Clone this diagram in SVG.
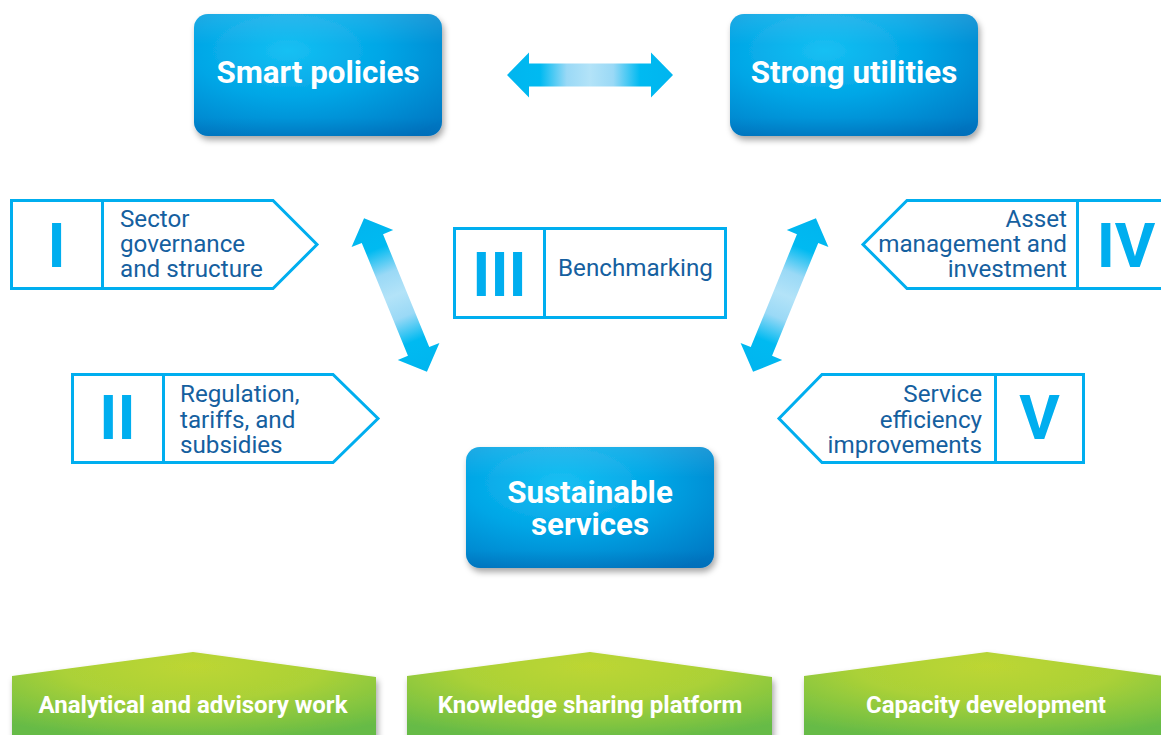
<svg xmlns="http://www.w3.org/2000/svg" width="1161" height="735" viewBox="0 0 1161 735">
<defs>
  <radialGradient id="gBlue" cx="0.38" cy="0.3" r="0.85">
    <stop offset="0" stop-color="#16c0f3"/>
    <stop offset="0.45" stop-color="#02a6e6"/>
    <stop offset="1" stop-color="#0079c4"/>
  </radialGradient>
  <linearGradient id="gBlueTop" x1="0" y1="0" x2="0" y2="1">
    <stop offset="0" stop-color="#ffffff" stop-opacity="0.12"/>
    <stop offset="0.25" stop-color="#ffffff" stop-opacity="0"/>
    <stop offset="0.85" stop-color="#003f8a" stop-opacity="0"/>
    <stop offset="1" stop-color="#003f8a" stop-opacity="0.18"/>
  </linearGradient>
  <radialGradient id="gGreen" cx="0.5" cy="0.15" r="0.8">
    <stop offset="0" stop-color="#bdd633"/>
    <stop offset="0.45" stop-color="#abd137"/>
    <stop offset="0.8" stop-color="#80c441"/>
    <stop offset="1" stop-color="#66bb46"/>
  </radialGradient>
  <linearGradient id="gArrow" x1="0" y1="0" x2="1" y2="0">
    <stop offset="0" stop-color="#00b5ef"/>
    <stop offset="0.2" stop-color="#00baf1"/>
    <stop offset="0.36" stop-color="#9ad9f6"/>
    <stop offset="0.5" stop-color="#b3e3f8"/>
    <stop offset="0.64" stop-color="#9ad9f6"/>
    <stop offset="0.8" stop-color="#00baf1"/>
    <stop offset="1" stop-color="#00b5ef"/>
  </linearGradient>
  <filter id="shadow" x="-10%" y="-10%" width="125%" height="135%">
    <feDropShadow dx="2" dy="4" stdDeviation="3" flood-color="#000000" flood-opacity="0.35"/>
  </filter>
  <path id="dblArrow" d="M-83 0 L-61 -22.5 L-61 -11.5 L61 -11.5 L61 -22.5 L83 0 L61 22.5 L61 11.5 L-61 11.5 L-61 22.5 Z"/>
</defs>
<style>
  .box { fill: url(#gBlue); }
  .boxtop { fill: url(#gBlueTop); }
  .boxlbl { font-family: Roboto, "Liberation Sans", sans-serif; font-weight: bold; font-size: 31.3px; fill: #ffffff; text-anchor: middle; }
  .mod { fill: #ffffff; stroke: #00aeef; stroke-width: 3; }
  .div { stroke: #00aeef; stroke-width: 3; }
  .num { font-family: Roboto, "Liberation Sans", sans-serif; font-weight: bold; font-size: 62px; fill: #00aeef; text-anchor: middle; }
  .mtxt { font-family: Roboto, "Liberation Sans", sans-serif; font-size: 24.2px; fill: #15609f; }
  .end { text-anchor: end; }
  .green { fill: url(#gGreen); }
  .glbl { font-family: Roboto, "Liberation Sans", sans-serif; font-weight: bold; font-size: 24px; fill: #ffffff; text-anchor: middle; }
  .arrow { fill: url(#gArrow); }
</style>

<g id="connectors">
  <use href="#dblArrow" class="arrow" transform="translate(590 75)"/>
  <use href="#dblArrow" class="arrow" transform="translate(395.5 295) rotate(67.75)"/>
  <use href="#dblArrow" class="arrow" transform="translate(784.5 295) rotate(-67.75)"/>
</g>

<g id="smart-policies">
  <g filter="url(#shadow)"><rect class="box" x="194" y="14" width="248" height="122" rx="14"/></g>
  <rect class="boxtop" x="194" y="14" width="248" height="122" rx="14"/>
  <text class="boxlbl" x="318" y="83">Smart policies</text>
</g>

<g id="strong-utilities">
  <g filter="url(#shadow)"><rect class="box" x="730" y="14" width="248" height="122" rx="14"/></g>
  <rect class="boxtop" x="730" y="14" width="248" height="122" rx="14"/>
  <text class="boxlbl" x="854" y="83">Strong utilities</text>
</g>

<g id="sustainable-services">
  <g filter="url(#shadow)"><rect class="box" x="466" y="447" width="248" height="121" rx="14"/></g>
  <rect class="boxtop" x="466" y="447" width="248" height="121" rx="14"/>
  <text class="boxlbl" x="590" y="503">Sustainable</text>
  <text class="boxlbl" x="590" y="535">services</text>
</g>

<g id="module-I">
  <path class="mod" d="M11.5 200.5 H273 L317 244.5 L273 288.5 H11.5 Z"/>
  <line class="div" x1="102.5" y1="200.5" x2="102.5" y2="288.5"/>
  <text class="num" x="56.5" y="267">I</text>
  <text class="mtxt" x="120" y="227">Sector</text>
  <text class="mtxt" x="120" y="252">governance</text>
  <text class="mtxt" x="120" y="277">and structure</text>
</g>

<g id="module-II">
  <path class="mod" d="M72.5 374.5 H333 L378 418.5 L333 462.5 H72.5 Z"/>
  <line class="div" x1="163.5" y1="374.5" x2="163.5" y2="462.5"/>
  <text class="num" x="117.5" y="439">II</text>
  <text class="mtxt" x="180" y="402">Regulation,</text>
  <text class="mtxt" x="180" y="427.5">tariffs, and</text>
  <text class="mtxt" x="180" y="453">subsidies</text>
</g>

<g id="module-III">
  <rect class="mod" x="454.5" y="228.5" width="271" height="89"/>
  <line class="div" x1="544.5" y1="228.5" x2="544.5" y2="317.5"/>
  <text class="num" x="499.5" y="296">III</text>
  <text class="mtxt" x="558" y="276">Benchmarking</text>
</g>

<g id="module-IV">
  <path class="mod" d="M1170 200.5 H907 L863 244.5 L907 288.5 H1170"/>
  <line class="div" x1="1077.5" y1="200.5" x2="1077.5" y2="288.5"/>
  <text class="num" x="1126" y="267">IV</text>
  <text class="mtxt end" x="1067" y="227">Asset</text>
  <text class="mtxt end" x="1067" y="252">management and</text>
  <text class="mtxt end" x="1067" y="277">investment</text>
</g>

<g id="module-V">
  <path class="mod" d="M1083.5 374.5 H822 L779 418.5 L822 462.5 H1083.5 Z"/>
  <line class="div" x1="995.5" y1="374.5" x2="995.5" y2="462.5"/>
  <text class="num" x="1039.5" y="439">V</text>
  <text class="mtxt end" x="982" y="402">Service</text>
  <text class="mtxt end" x="982" y="427.5">efficiency</text>
  <text class="mtxt end" x="982" y="453">improvements</text>
</g>

<g id="analytical-advisory">
  <polygon class="green" filter="url(#shadow)" points="12,676 193,652 376,677 376,745 12,745"/>
  <text class="glbl" x="193" y="713">Analytical and advisory work</text>
</g>

<g id="knowledge-sharing">
  <polygon class="green" filter="url(#shadow)" points="407,676 590,652 772,677 772,745 407,745"/>
  <text class="glbl" x="590" y="713">Knowledge sharing platform</text>
</g>

<g id="capacity-development">
  <polygon class="green" filter="url(#shadow)" points="804,676 987,652 1170,677 1170,745 804,745"/>
  <text class="glbl" x="986" y="713">Capacity development</text>
</g>
</svg>
